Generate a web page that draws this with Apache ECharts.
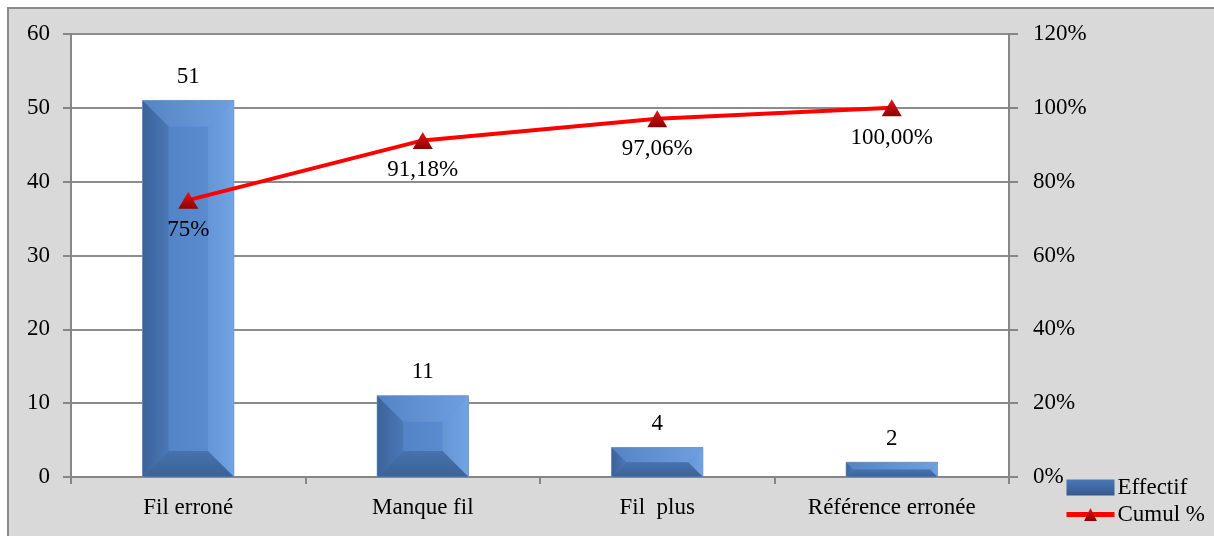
<!DOCTYPE html>
<html>
<head>
<meta charset="utf-8">
<script src="https://cdn.jsdelivr.net/npm/echarts@6/dist/echarts.min.js"></script>
<style>
  html, body { margin: 0; padding: 0; background: #ffffff; }
  #chart { width: 1214px; height: 536px; }
</style>
</head>
<body>
<div id="chart"></div>
<script>
// Pareto des défauts : effectif par type et pourcentage cumulé
const categories = ['Fil erroné', 'Manque fil', 'Fil  plus', 'Référence erronée'];
const effectif = [51, 11, 4, 2];
const cumul = [75, 91.18, 97.06, 100];
const cumulLabels = ['75%', '91,18%', '97,06%', '100,00%'];

const FONT = 'Liberation Serif';
const FS = 23;
const BAR_W = 0.39;

const chart = echarts.init(document.getElementById('chart'));

// Facettes biseautées dessinées par-dessus chaque barre
function bevelItem(params, api) {
  const top = api.coord([api.value(0), api.value(1)]);
  const base = api.coord([api.value(0), 0]);
  const w = api.size([1, 0])[0] * BAR_W;
  const x0 = top[0] - w / 2, x1 = top[0] + w / 2;
  const y0 = top[1], y1 = base[1];
  const h = y1 - y0;
  const b = Math.min(26, h / 2, w / 2);
  const grad = (c1, c2, horiz) => new echarts.graphic.LinearGradient(0, 0, horiz ? 1 : 0, horiz ? 0 : 1,
    [{ offset: 0, color: c1 }, { offset: 1, color: c2 }]);
  return {
    type: 'group',
    children: [
      { type: 'rect', shape: { x: x0, y: y0, width: w, height: h },
        style: { fill: grad('#4f7fc2', '#5e90d4', true) } },
      { type: 'polygon', shape: { points: [[x0, y0], [x1, y0], [x1 - b, y0 + b], [x0 + b, y0 + b]] },
        style: { fill: grad('#5584c4', '#6e9fde', true) } },
      { type: 'polygon', shape: { points: [[x0, y0], [x0 + b, y0 + b], [x0 + b, y1 - b], [x0, y1]] },
        style: { fill: grad('#3b6398', '#4a77b6', true) } },
      { type: 'polygon', shape: { points: [[x1, y0], [x1, y1], [x1 - b, y1 - b], [x1 - b, y0 + b]] },
        style: { fill: grad('#6496d6', '#72a3e3', true) } },
      { type: 'polygon', shape: { points: [[x0, y1], [x1, y1], [x1 - b, y1 - b], [x0 + b, y1 - b]] },
        style: { fill: grad('#4672ae', '#3a6296', false) } },
      { type: 'rect', shape: { x: x0, y: y0, width: w, height: h },
        style: { fill: 'none', stroke: 'rgba(120,150,200,0.6)', lineWidth: 1 } }
    ]
  };
}

const axisText = { color: '#000', fontFamily: FONT, fontSize: FS };

chart.setOption({
  animation: false,
  backgroundColor: 'transparent',
  graphic: [{
    type: 'rect', z: -10, silent: true,
    shape: { x: 8, y: 8, width: 1230, height: 560 },
    style: { fill: '#d9d9d9', stroke: '#8a8a8a', lineWidth: 2 }
  }],
  grid: {
    left: 71, right: 205, top: 34, bottom: 59,
    show: true, backgroundColor: '#ffffff', borderWidth: 0
  },
  legend: {
    data: [
      { name: 'Effectif', icon: 'rect' },
      { name: 'Cumul %', lineStyle: { width: 5, color: '#ff0000' } }
    ],
    orient: 'vertical',
    left: 1064, top: 476, height: 60,
    padding: 0,
    itemWidth: 48, itemHeight: 16, itemGap: 4,
    textStyle: { color: '#000', fontFamily: FONT, fontSize: FS, padding: [0, 0, 0, -2] }
  },
  xAxis: {
    type: 'category',
    data: categories,
    boundaryGap: true,
    axisLine: { lineStyle: { color: '#868686', width: 2 } },
    axisTick: { show: true, length: 7, interval: 0, lineStyle: { color: '#868686', width: 2 } },
    axisLabel: Object.assign({ margin: 19, interval: 0 }, axisText)
  },
  yAxis: [{
    type: 'value', min: 0, max: 60, interval: 10,
    axisLine: { show: true, lineStyle: { color: '#868686', width: 2 } },
    axisTick: { show: true, length: 8, lineStyle: { color: '#868686', width: 2 } },
    splitLine: { lineStyle: { color: '#8c8c8c', width: 2 } },
    axisLabel: Object.assign({ margin: 21 }, axisText)
  }, {
    type: 'value', min: 0, max: 120, interval: 20, position: 'right',
    axisLine: { show: true, lineStyle: { color: '#868686', width: 2 } },
    axisTick: { show: true, length: 9, lineStyle: { color: '#868686', width: 2 } },
    splitLine: { show: false },
    axisLabel: Object.assign({ margin: 24, formatter: '{value}%' }, axisText)
  }],
  series: [{
    name: 'Effectif',
    type: 'bar',
    data: effectif,
    barWidth: (BAR_W * 100) + '%',
    z: 2,
    itemStyle: {
      color: new echarts.graphic.LinearGradient(0, 0, 0, 1, [
        { offset: 0, color: '#4a78b8' }, { offset: 1, color: '#36598c' }
      ])
    },
    label: {
      show: true, position: 'top', distance: 12,
      color: '#000', fontFamily: FONT, fontSize: FS
    }
  }, {
    type: 'custom',
    data: effectif.map((v, i) => [i, v]),
    renderItem: bevelItem,
    z: 3,
    silent: true,
    encode: { x: 0, y: 1 }
  }, {
    name: 'Cumul %',
    type: 'line',
    yAxisIndex: 1,
    data: cumul,
    z: 5,
    symbol: 'triangle',
    symbolSize: [20, 17],
    lineStyle: { color: '#ff0000', width: 4 },
    itemStyle: {
      color: new echarts.graphic.LinearGradient(0, 0, 0, 1, [
        { offset: 0, color: '#e01818' }, { offset: 1, color: '#8e0000' }
      ]),
      borderWidth: 0
    },
    label: {
      show: true, position: 'bottom', distance: 10,
      color: '#000', fontFamily: FONT, fontSize: FS,
      formatter: p => cumulLabels[p.dataIndex]
    }
  }]
});
</script>
</body>
</html>
